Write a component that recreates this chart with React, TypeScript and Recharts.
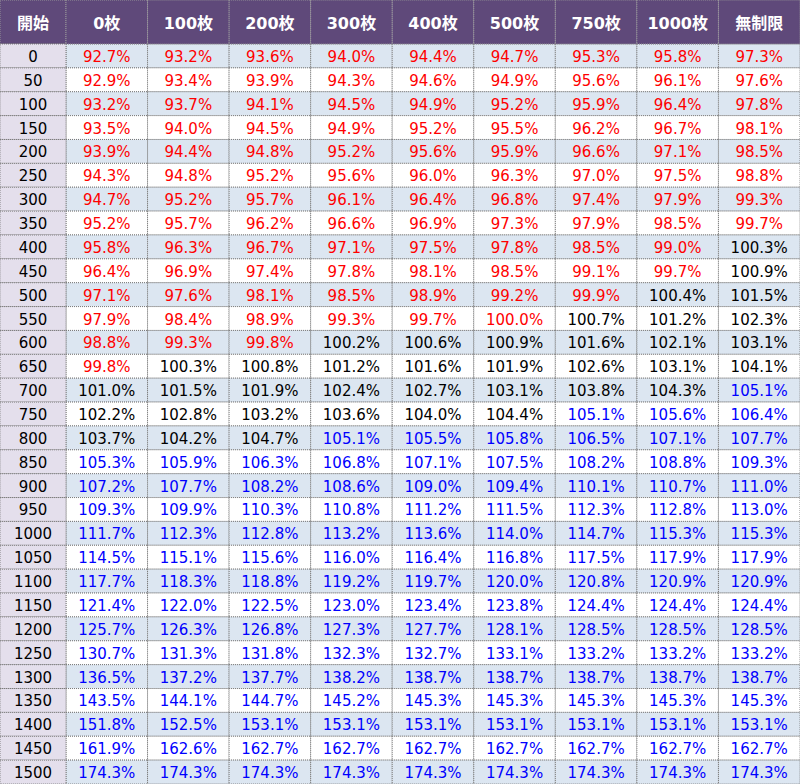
import React from 'react';
import { ScatterChart, Scatter, XAxis, YAxis } from 'recharts';

// columns: upper limit of medals
const LIMITS = ['0枚', '100枚', '200枚', '300枚', '400枚', '500枚', '750枚', '1000枚', '無制限'];

// rows: starting game count
const STARTS = [
  '0', '50', '100', '150', '200', '250', '300', '350', '400', '450', '500',
  '550', '600', '650', '700', '750', '800', '850', '900', '950', '1000',
  '1050', '1100', '1150', '1200', '1250', '1300', '1350', '1400', '1450', '1500',
];

// payout rate (%) per row, one value per limit column
const RATES = [
  [92.7, 93.2, 93.6, 94.0, 94.4, 94.7, 95.3, 95.8, 97.3],
  [92.9, 93.4, 93.9, 94.3, 94.6, 94.9, 95.6, 96.1, 97.6],
  [93.2, 93.7, 94.1, 94.5, 94.9, 95.2, 95.9, 96.4, 97.8],
  [93.5, 94.0, 94.5, 94.9, 95.2, 95.5, 96.2, 96.7, 98.1],
  [93.9, 94.4, 94.8, 95.2, 95.6, 95.9, 96.6, 97.1, 98.5],
  [94.3, 94.8, 95.2, 95.6, 96.0, 96.3, 97.0, 97.5, 98.8],
  [94.7, 95.2, 95.7, 96.1, 96.4, 96.8, 97.4, 97.9, 99.3],
  [95.2, 95.7, 96.2, 96.6, 96.9, 97.3, 97.9, 98.5, 99.7],
  [95.8, 96.3, 96.7, 97.1, 97.5, 97.8, 98.5, 99.0, 100.3],
  [96.4, 96.9, 97.4, 97.8, 98.1, 98.5, 99.1, 99.7, 100.9],
  [97.1, 97.6, 98.1, 98.5, 98.9, 99.2, 99.9, 100.4, 101.5],
  [97.9, 98.4, 98.9, 99.3, 99.7, 100.0, 100.7, 101.2, 102.3],
  [98.8, 99.3, 99.8, 100.2, 100.6, 100.9, 101.6, 102.1, 103.1],
  [99.8, 100.3, 100.8, 101.2, 101.6, 101.9, 102.6, 103.1, 104.1],
  [101.0, 101.5, 101.9, 102.4, 102.7, 103.1, 103.8, 104.3, 105.1],
  [102.2, 102.8, 103.2, 103.6, 104.0, 104.4, 105.1, 105.6, 106.4],
  [103.7, 104.2, 104.7, 105.1, 105.5, 105.8, 106.5, 107.1, 107.7],
  [105.3, 105.9, 106.3, 106.8, 107.1, 107.5, 108.2, 108.8, 109.3],
  [107.2, 107.7, 108.2, 108.6, 109.0, 109.4, 110.1, 110.7, 111.0],
  [109.3, 109.9, 110.3, 110.8, 111.2, 111.5, 112.3, 112.8, 113.0],
  [111.7, 112.3, 112.8, 113.2, 113.6, 114.0, 114.7, 115.3, 115.3],
  [114.5, 115.1, 115.6, 116.0, 116.4, 116.8, 117.5, 117.9, 117.9],
  [117.7, 118.3, 118.8, 119.2, 119.7, 120.0, 120.8, 120.9, 120.9],
  [121.4, 122.0, 122.5, 123.0, 123.4, 123.8, 124.4, 124.4, 124.4],
  [125.7, 126.3, 126.8, 127.3, 127.7, 128.1, 128.5, 128.5, 128.5],
  [130.7, 131.3, 131.8, 132.3, 132.7, 133.1, 133.2, 133.2, 133.2],
  [136.5, 137.2, 137.7, 138.2, 138.7, 138.7, 138.7, 138.7, 138.7],
  [143.5, 144.1, 144.7, 145.2, 145.3, 145.3, 145.3, 145.3, 145.3],
  [151.8, 152.5, 153.1, 153.1, 153.1, 153.1, 153.1, 153.1, 153.1],
  [161.9, 162.6, 162.7, 162.7, 162.7, 162.7, 162.7, 162.7, 162.7],
  [174.3, 174.3, 174.3, 174.3, 174.3, 174.3, 174.3, 174.3, 174.3],
];

const W = 800;
const H = 784;
const HEAD_H = 44;
const LABEL_W = 66;
const CELL_W = (W - LABEL_W) / LIMITS.length;
const CELL_H = (H - HEAD_H) / STARTS.length;

const FONT = "'DejaVu Sans', 'Noto Sans CJK JP', sans-serif";
const GRID = '#7a7a7a';

const cells = STARTS.flatMap((start, r) =>
  LIMITS.map((limit, c) => ({ start, limit, rate: RATES[r][c], row: r }))
);

const rateColor = (v: number) => (v <= 100 ? '#ff0000' : v < 105 ? '#000000' : '#0000ff');

const RateCell = (props: any) => {
  const { cx, cy, payload } = props;
  return (
    <g>
      <rect
        x={cx - CELL_W / 2}
        y={cy - CELL_H / 2}
        width={CELL_W}
        height={CELL_H}
        fill={payload.row % 2 === 0 ? '#dce6f1' : '#ffffff'}
        stroke={GRID}
        strokeDasharray="1 1"
      />
      <text
        x={cx}
        y={cy + 1}
        textAnchor="middle"
        dominantBaseline="central"
        fontFamily={FONT}
        fontSize={15}
        fill={rateColor(payload.rate)}
      >
        {payload.rate.toFixed(1)}%
      </text>
    </g>
  );
};

const HeadTick = (props: any) => {
  const { x, payload } = props;
  return (
    <g>
      <rect x={x - CELL_W / 2} y={0} width={CELL_W} height={HEAD_H} fill="#5f497a" stroke="#9a9a9a" strokeDasharray="1 1" />
      <text
        x={x}
        y={HEAD_H / 2 + 1}
        textAnchor="middle"
        dominantBaseline="central"
        fontFamily={FONT}
        fontSize={16}
        fontWeight="bold"
        fill="#ffffff"
      >
        {payload.value}
      </text>
    </g>
  );
};

const StartTick = (props: any) => {
  const { y, payload } = props;
  return (
    <g>
      <rect x={0} y={y - CELL_H / 2} width={LABEL_W} height={CELL_H} fill="#e4dfec" stroke={GRID} strokeDasharray="1 1" />
      <text
        x={LABEL_W / 2}
        y={y + 1}
        textAnchor="middle"
        dominantBaseline="central"
        fontFamily={FONT}
        fontSize={15}
        fill="#000000"
      >
        {payload.value}
      </text>
    </g>
  );
};

const Corner = () => (
  <g>
    <rect x={0} y={0} width={LABEL_W} height={HEAD_H} fill="#5f497a" stroke="#9a9a9a" strokeDasharray="1 1" />
    <text
      x={LABEL_W / 2}
      y={HEAD_H / 2 + 1}
      textAnchor="middle"
      dominantBaseline="central"
      fontFamily={FONT}
      fontSize={16}
      fontWeight="bold"
      fill="#ffffff"
    >
      開始
    </text>
  </g>
);

export default function App() {
  return (
    <div style={{ position: 'absolute', left: 0, top: 0, width: W, height: H, background: '#fff' }}>
      <ScatterChart width={W} height={H} margin={{ top: 0, right: 0, bottom: 0, left: 0 }}>
        <XAxis
          xAxisId={0}
          type="category"
          dataKey="limit"
          orientation="top"
          height={HEAD_H}
          allowDuplicatedCategory={false}
          interval={0}
          axisLine={false}
          tickLine={false}
          tick={<HeadTick />}
        />
        <YAxis
          yAxisId={0}
          type="category"
          dataKey="start"
          width={LABEL_W}
          reversed
          allowDuplicatedCategory={false}
          interval={0}
          axisLine={false}
          tickLine={false}
          tick={<StartTick />}
          label={{ content: <Corner /> }}
        />
        <Scatter data={cells} shape={<RateCell />} isAnimationActive={false} />
      </ScatterChart>
    </div>
  );
}
